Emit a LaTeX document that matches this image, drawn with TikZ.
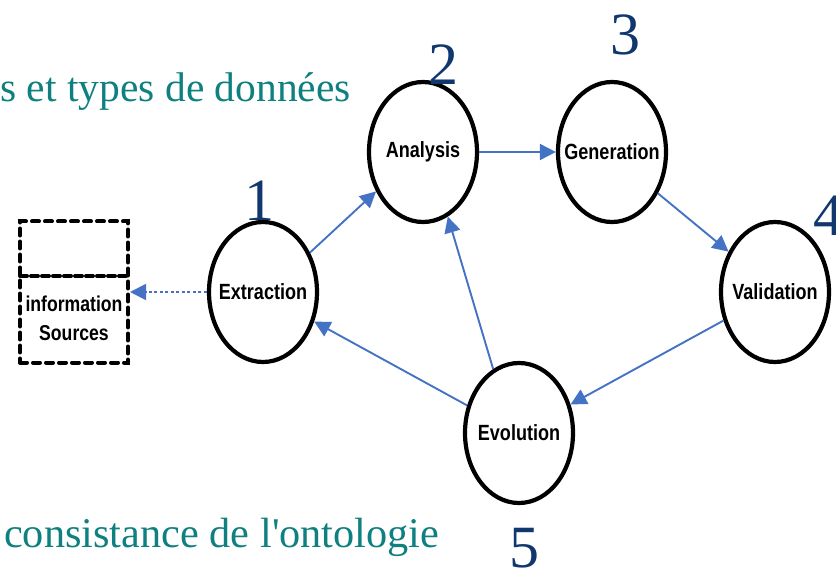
\documentclass[tikz,border=0pt]{standalone}
\usepackage{fontspec}
\setmainfont{Liberation Serif}
\newfontfamily\narrowbold[FakeStretch=0.82]{Liberation Sans Bold}
\usetikzlibrary{shapes.geometric,arrows.meta}
\definecolor{flowblue}{RGB}{68,114,196}
\definecolor{numblue}{RGB}{16,56,110}
\definecolor{tealtext}{RGB}{14,128,128}
\tikzset{
  stage/.style={ellipse, draw=black, line width=4.2pt, minimum width=108pt, minimum height=140pt, inner sep=0pt, font=\narrowbold\fontsize{22}{24}\selectfont},
  flow/.style={draw=flowblue, line width=1.9pt, -{Triangle[length=16pt,width=16pt]}},
  numlabel/.style={anchor=base, text=numblue, font=\fontsize{60}{62}\selectfont, inner sep=0pt},
  bgtext/.style={text=tealtext, font=\fontsize{41.5}{44}\selectfont, inner sep=0pt, anchor=base west},
}
\begin{document}
\begin{tikzpicture}[x=1pt,y=-1pt]
\useasboundingbox (0,0) rectangle (836,575);
% background texts
\node[bgtext, anchor=base east] (t1) at (351,102) {s et types de données};
\node[bgtext, font=\fontsize{42.3}{44}\selectfont] (t2) at (4,547) {consistance de l\textquotesingle ontologie};
% stages
\node[stage] (ext) at (263,292) {\makebox[0pt]{Extraction}};
\node[stage] (ana) at (423,152) {\makebox[0pt]{Analysis}};
\node[stage] (gen) at (612,152) {\makebox[0pt]{Generation}};
\node[stage] (val) at (775,292) {\makebox[0pt]{Validation}};
\node[stage] (evo) at (519,433) {\makebox[0pt]{Evolution}};
% source box
\node[draw=black, line width=4pt, dash pattern=on 7pt off 6pt, line cap=round, minimum width=108pt, minimum height=141pt, inner sep=0pt] (src) at (74,292) {};
\coordinate (midl) at (20,276);
\coordinate (midr) at (128,276);
\draw[line width=4pt, dash pattern=on 7pt off 4pt, line cap=round] (midl) -- (midr);
\node[align=center, font=\narrowbold\fontsize{21.5}{29}\selectfont, inner sep=0pt] (srct) at (74,318) {information\\Sources};
% numbers
\node[numlabel] (n1) at (259,221) {1};
\node[numlabel] (n2) at (443,85) {2};
\node[numlabel] (n3) at (625,55) {3};
\node[numlabel] (n4) at (828,235) {4};
\node[numlabel] (n5) at (524,567) {5};
% connectors
\draw[flow] (ext.40) -- (ana.220);
\draw[flow] (ana.east) -- (gen.west);
\draw[flow] (gen.-42) -- (val.139);
\draw[flow] (val.209) -- (evo.29);
\draw[flow] (evo.112) -- (ana.-69);
\draw[flow] (evo.152) -- (ext.-30);
\draw[draw=flowblue, line width=1.8pt, dash pattern=on 3pt off 2.5pt, -{Triangle[length=16pt,width=16pt]}] (ext.west) -- (src.east);
\end{tikzpicture}
\end{document}
